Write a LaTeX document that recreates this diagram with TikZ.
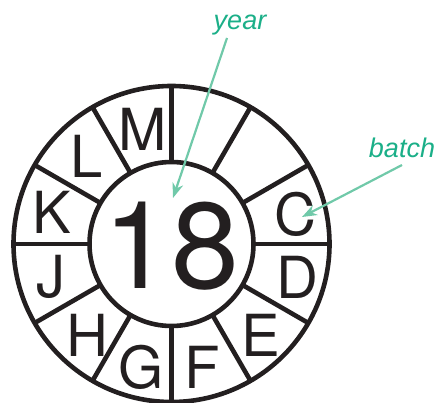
\documentclass[tikz,border=0pt]{standalone}
\usepackage{fontspec}
\setmainfont{TeX Gyre Heros}
\newfontfamily\labelfont{Liberation Sans}
\usetikzlibrary{arrows.meta}
\definecolor{ringblack}{HTML}{231F20}
\definecolor{tagtext}{HTML}{1BAF88}
\definecolor{tagline}{HTML}{70C9A9}
\begin{document}
\begin{tikzpicture}[x=1pt,y=-1pt,
  ring/.style={line width=4.6pt, draw=ringblack},
  letter/.style={font=\fontsize{58}{58}\selectfont, text=ringblack, inner sep=0pt, anchor=center},
  tag/.style={font=\labelfont\itshape\fontsize{27}{27}\selectfont, text=tagtext, inner sep=0pt, anchor=base},
  pointer/.style={draw=tagline, line width=2.2pt, -{Stealth[length=15pt,width=11pt]}}]
\useasboundingbox (0,0) rectangle (439,403);
\coordinate (c) at (171.5,244);
\draw[ring] (c) circle[radius=158pt];
\draw[ring] (c) circle[radius=82pt];
\foreach \a in {0,30,...,330}
  \draw[ring] ([shift={(\a:82pt)}]c) -- ([shift={(\a:158pt)}]c);
\node[font=\fontsize{122}{122}\selectfont, text=ringblack, inner sep=0pt] (yr) at (171,246) {18};
\node[letter] (C) at (295,214) {C};
\node[letter] (D) at (297,277) {D};
\node[letter] (E) at (261,335) {E};
\node[letter] (F) at (202,367) {F};
\node[letter] (G) at (141,367) {G};
\node[letter] (H) at (87,335) {H};
\node[letter] (J) at (51,277) {J};
\node[letter] (K) at (52,212) {K};
\node[letter] (L) at (87,156) {L};
\node[letter] (M) at (143,129) {M};
\node[tag] (year) at (240,30) {year};
\node[tag] (batch) at (402,158) {batch};
\coordinate (ys) at (227,38);
\coordinate (ye) at (173,198);
\coordinate (bs) at (402,165);
\coordinate (be) at (302,217);
\draw[pointer] (ys) -- (ye);
\draw[pointer] (bs) -- (be);
\end{tikzpicture}
\end{document}
